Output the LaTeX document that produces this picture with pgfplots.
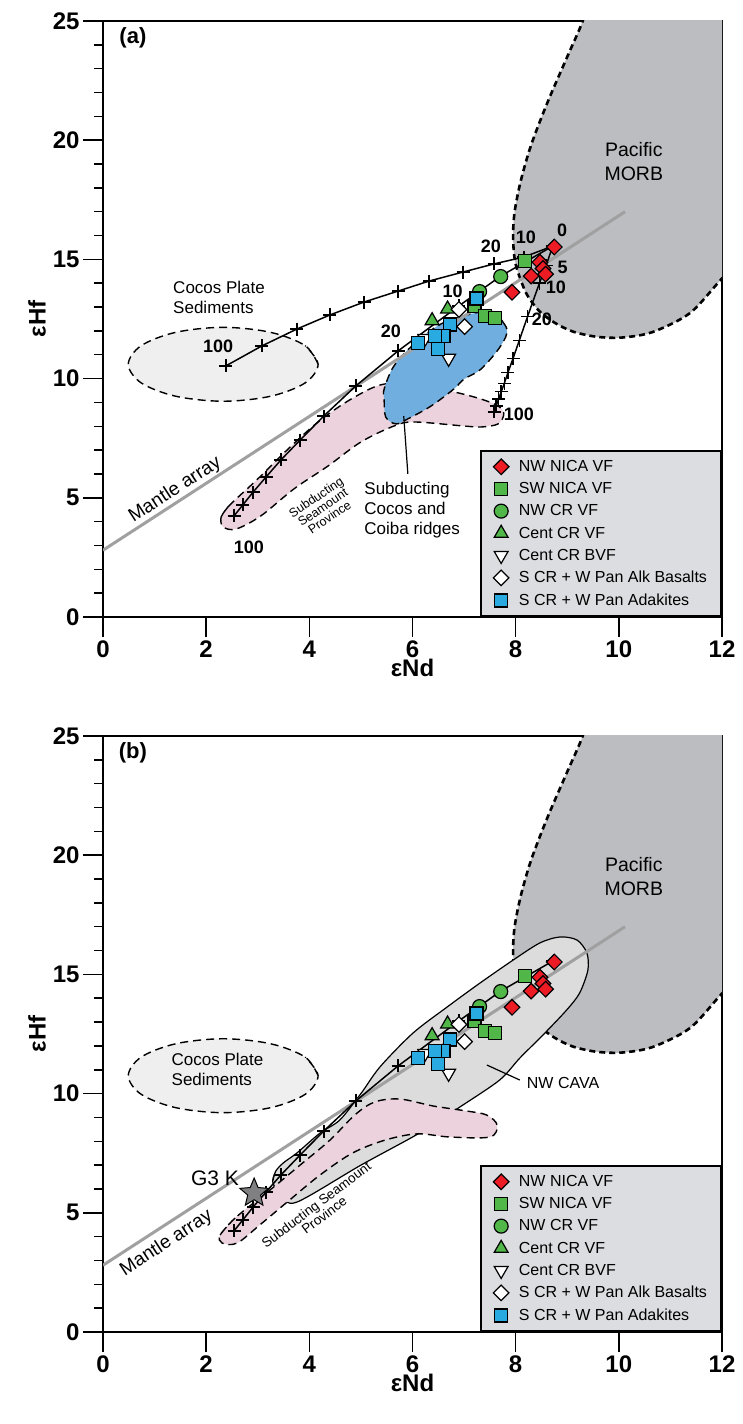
\documentclass[border=0pt]{standalone}
\usepackage{pgfplots}
\pgfplotsset{compat=1.18}
\usepackage{fontspec}
\setmainfont{Liberation Sans}
\usetikzlibrary{plotmarks}

\definecolor{morb}{RGB}{188,189,193}
\definecolor{sedfill}{RGB}{239,239,239}
\definecolor{pinkf}{RGB}{236,210,221}
\definecolor{bluef}{RGB}{111,174,222}
\definecolor{cava}{RGB}{220,220,220}
\definecolor{leggray}{RGB}{220,221,224}
\definecolor{mantle}{RGB}{160,160,160}
\definecolor{red1}{RGB}{237,28,36}
\definecolor{green1}{RGB}{80,183,72}
\definecolor{blue1}{RGB}{41,171,226}
\definecolor{starg}{RGB}{128,128,130}

\pgfdeclareplotmark{fstar}{%
  \pgfpathmoveto{\pgfpointpolar{90}{\pgfplotmarksize}}%
  \pgfpathlineto{\pgfpointpolar{126}{0.45\pgfplotmarksize}}%
  \pgfpathlineto{\pgfpointpolar{162}{\pgfplotmarksize}}%
  \pgfpathlineto{\pgfpointpolar{198}{0.45\pgfplotmarksize}}%
  \pgfpathlineto{\pgfpointpolar{234}{\pgfplotmarksize}}%
  \pgfpathlineto{\pgfpointpolar{270}{0.45\pgfplotmarksize}}%
  \pgfpathlineto{\pgfpointpolar{306}{\pgfplotmarksize}}%
  \pgfpathlineto{\pgfpointpolar{342}{0.45\pgfplotmarksize}}%
  \pgfpathlineto{\pgfpointpolar{18}{\pgfplotmarksize}}%
  \pgfpathlineto{\pgfpointpolar{54}{0.45\pgfplotmarksize}}%
  \pgfpathclose
  \pgfusepathqfillstroke}

\pgfplotsset{
  panel/.style={
    scale only axis, width=619pt, height=596pt,
    xmin=0, xmax=12, ymin=0, ymax=25,
    xtick={0,2,...,12}, ytick={0,5,...,25},
    minor ytick={1,2,3,4,6,7,8,9,11,12,13,14,16,17,18,19,21,22,23,24},
    tick pos=left, tick align=outside,
    major tick length=20pt, minor tick length=9pt,
    every tick/.append style={black, line width=1.5pt},
    axis line style={line width=2.2pt},
    tick label style={font=\fontsize{24}{24}\selectfont\bfseries},
    /pgf/number format/assume math mode=true,
    xlabel={εNd}, ylabel={εHf},
    label style={font=\fontsize{24}{24}\selectfont\bfseries},
    xlabel style={yshift=5pt},
    legend style={at={(1,0)}, anchor=south east, fill=leggray, draw=black,
      line width=2pt, font=\fontsize{16}{16}\selectfont,
      inner xsep=12pt, inner ysep=7pt, row sep=5.5pt,
      /tikz/every odd column/.append style={column sep=8pt}},
    legend cell align=left,
  },
  rgn/.style={dash pattern=on 8pt off 5pt, line width=1.4pt, smooth, tension=0.55},
  morbline/.style={dash pattern=on 6pt off 4pt, line width=2.6pt, smooth, tension=0.5},
  mix/.style={black, line width=1.5pt, mark=+, mark size=6.5pt, mark options={line width=1.5pt}},
  nwnica/.style={only marks, mark=square*, mark size=5.5pt, line width=1.2pt, mark options={rotate=45, fill=red1, draw=black}},
  swnica/.style={only marks, mark=square*, mark size=6.5pt, line width=1.2pt, mark options={fill=green1, draw=black}},
  nwcr/.style={only marks, mark=*, mark size=7pt, line width=1.2pt, mark options={fill=green1, draw=black}},
  centcr/.style={only marks, mark=triangle*, mark size=8pt, line width=1.2pt, mark options={fill=green1, draw=black}},
  centbvf/.style={only marks, mark=triangle*, mark size=8pt, line width=1.2pt, mark options={rotate=180, fill=white, draw=black}},
  alkb/.style={only marks, mark=square*, mark size=5.5pt, line width=1.2pt, mark options={rotate=45, fill=white, draw=black}},
  adak/.style={only marks, mark=square*, mark size=6.5pt, line width=1.2pt, mark options={fill=blue1, draw=black}},
}

\newcommand{\datapoints}{%
\addplot[nwnica] coordinates {(8.75,15.52) (8.47,14.88) (8.53,14.62) (8.30,14.30) (8.58,14.38) (7.93,13.62)};
\addlegendentry{NW NICA VF}
\addplot[swnica] coordinates {(7.20,13.05) (8.18,14.94) (7.40,12.62) (7.60,12.53)};
\addlegendentry{SW NICA VF}
\addplot[nwcr] coordinates {(7.71,14.28) (7.30,13.65)};
\addlegendentry{NW CR VF}
\addplot[centcr] coordinates {(6.68,12.92) (6.38,12.43)};
\addlegendentry{Cent CR VF}
\addplot[centbvf] coordinates {(6.24,11.68) (6.70,10.85)};
\addlegendentry{Cent CR BVF}
\addplot[alkb] coordinates {(6.90,12.90) (7.01,12.18)};
\addlegendentry{S CR + W Pan Alk Basalts}
\addplot[adak] coordinates {(7.24,13.36) (6.73,12.27) (6.50,11.25) (6.60,11.80) (6.44,11.78) (6.10,11.48)};
\addlegendentry{S CR + W Pan Adakites}
}

\newcommand{\morb}{%
\addplot[fill=morb, draw=none, smooth, tension=0.5, forget plot] coordinates {(9.40,26) (9.30,25) (9.0,23.5) (8.62,21.6) (8.30,19.8) (8.10,18.3) (7.98,17.0) (7.95,15.9) (8.0,14.8) (8.20,13.6) (8.45,12.85) (8.75,12.35) (9.10,11.98) (9.55,11.76) (10.05,11.72) (10.65,11.95) (11.38,12.75) (12.0,14.2) (12.6,15.5) (12.8,26)} -- cycle;
\addplot[morbline, forget plot] coordinates {(9.40,26) (9.30,25) (9.0,23.5) (8.62,21.6) (8.30,19.8) (8.10,18.3) (7.98,17.0) (7.95,15.9) (8.0,14.8) (8.20,13.6) (8.45,12.85) (8.75,12.35) (9.10,11.98) (9.55,11.76) (10.05,11.72) (10.65,11.95) (11.38,12.75) (12.0,14.2) (12.6,15.5)};
}

\begin{document}
\begin{tikzpicture}
\path[use as bounding box] (0,0) rectangle (743pt,1424pt);

% ================= panel (a) =================
\begin{axis}[panel, at={(103pt,807pt)}, anchor=south west]
\morb
% Cocos plate sediments
\addplot[fill=sedfill, rgn, forget plot] coordinates {(4.17,10.6) (3.92,11.38) (3.25,11.94) (2.33,12.15) (1.41,11.94) (0.74,11.38) (0.49,10.6) (0.74,9.82) (1.41,9.26) (2.33,9.05) (3.25,9.26) (3.92,9.82) (4.17,10.6) (3.92,11.38)};
% seamount province
\addplot[fill=pinkf, rgn, forget plot] coordinates {(2.29,4.19) (2.44,4.66) (3.00,5.79) (3.59,7.05) (4.17,8.18) (4.81,9.14) (5.45,9.77) (6.16,9.65) (6.80,9.44) (7.33,9.14) (7.66,8.85) (7.77,8.52) (7.66,8.10) (7.33,7.97) (7.00,8.01) (6.03,8.18) (5.64,8.01) (5.00,7.34) (4.36,6.33) (3.70,5.37) (3.06,4.24) (2.58,3.69) (2.33,3.78) (2.29,4.19) (2.44,4.66)};
% Cocos and Coiba ridges
\addplot[fill=bluef, rgn, forget plot] coordinates {(7.58,12.79) (7.83,12.08) (7.71,11.37) (7.33,10.40) (7.00,9.98) (6.80,9.56) (6.36,8.85) (5.91,8.31) (5.68,8.10) (5.48,8.39) (5.45,9.14) (5.45,9.56) (5.64,10.53) (6.03,11.45) (6.55,12.29) (7.13,12.71) (7.58,12.79) (7.83,12.08)};
% mantle array
\addplot[mantle, line width=3pt, forget plot] coordinates {(0,2.8) (10.12,17.0)};
% mixing curves
\addplot[mix, forget plot] coordinates {(8.72,15.56) (8.16,15.10) (7.58,14.81) (6.98,14.47) (6.32,14.09) (5.72,13.67) (5.06,13.21) (4.40,12.67) (3.76,12.08) (3.08,11.37) (2.38,10.53)};
\addplot[mix, forget plot] coordinates {(8.72,15.56) (7.71,14.30) (6.90,13.05) (5.72,11.16) (4.90,9.69) (4.28,8.43) (3.82,7.42) (3.45,6.59) (3.16,5.87) (2.91,5.24) (2.71,4.70) (2.54,4.24)};
\addplot[mix, forget plot] coordinates {(8.72,15.56) (8.59,14.75) (8.46,14.0) (8.23,12.6) (8.07,11.6) (7.95,10.85) (7.85,10.25) (7.78,9.8) (7.72,9.45) (7.67,9.15) (7.62,8.85) (7.58,8.6)};
% leader line
\addplot[black, line width=1.2pt, forget plot] coordinates {(5.91,6.0) (5.83,8.43)};
\datapoints
% labels
\node[font=\fontsize{22}{22}\selectfont\bfseries] at (axis cs:0.58,24.3) {(a)};
\node[font=\fontsize{19.5}{24}\selectfont, align=center] at (axis cs:10.29,19.1) {Pacific\\MORB};
\node[font=\fontsize{17}{20}\selectfont, align=left] at (axis cs:2.25,13.4) {Cocos Plate\\Sediments};
\node[font=\fontsize{17}{20}\selectfont, align=left, anchor=north west] at (axis cs:5.0,5.8) {Subducting\\Cocos and\\Coiba ridges};
\node[font=\fontsize{12.5}{12}\selectfont, align=center, rotate=34] at (axis cs:4.26,4.61) {Subducting\\Seamount\\Province};
\node[font=\fontsize{19}{19}\selectfont, rotate=33] at (axis cs:1.40,5.33) {Mantle array};
\begin{scope}[every node/.style={font=\fontsize{18}{18}\selectfont\bfseries}]
\node at (axis cs:2.23,11.37) {100};
\node at (axis cs:7.52,15.56) {20};
\node at (axis cs:8.20,15.94) {10};
\node at (axis cs:8.90,16.23) {0};
\node at (axis cs:8.91,14.68) {5};
\node at (axis cs:8.78,13.84) {10};
\node at (axis cs:8.51,12.5) {20};
\node at (axis cs:8.06,8.51) {100};
\node at (axis cs:5.58,12.0) {20};
\node at (axis cs:6.78,13.67) {10};
\node at (axis cs:2.83,2.94) {100};
\end{scope}
\end{axis}

% ================= panel (b) =================
\begin{axis}[panel, at={(103pt,92pt)}, anchor=south west]
\morb
\addplot[fill=sedfill, rgn, forget plot] coordinates {(4.17,10.75) (3.92,11.53) (3.25,12.09) (2.33,12.3) (1.41,12.09) (0.74,11.53) (0.49,10.75) (0.74,9.97) (1.41,9.41) (2.33,9.2) (3.25,9.41) (3.92,9.97) (4.17,10.75) (3.92,11.53)};
% NW CAVA field
\addplot[fill=cava, draw=black, line width=1.2pt, smooth, tension=0.5, forget plot] coordinates {(3.29,6.30) (3.35,6.75) (3.50,7.10) (3.76,7.51) (4.21,8.35) (4.59,8.89) (5.0,10.0) (5.37,11.12) (6.01,12.54) (6.67,13.63) (7.31,14.64) (7.95,15.60) (8.47,16.32) (8.86,16.57) (9.19,16.44) (9.38,15.90) (9.40,15.18) (9.24,14.22) (8.99,13.51) (8.53,12.46) (8.08,11.49) (7.69,10.57) (6.92,9.44) (6.14,8.35) (5.0,7.0) (3.76,5.45) (3.45,5.70) (3.29,6.30) (3.35,6.75)};
% seamount province
\addplot[fill=pinkf, rgn, forget plot] coordinates {(2.27,4.07) (2.56,4.78) (3.24,5.96) (3.82,7.00) (4.40,8.05) (4.88,9.10) (5.27,9.65) (5.76,9.77) (6.40,9.48) (7.05,9.27) (7.44,9.10) (7.64,8.68) (7.50,8.18) (6.72,8.18) (6.09,8.31) (5.47,8.05) (4.84,7.51) (4.21,6.59) (3.62,5.54) (3.04,4.49) (2.60,3.73) (2.31,3.73) (2.27,4.07) (2.56,4.78)};
\addplot[mantle, line width=3pt, forget plot] coordinates {(0,2.8) (10.12,17.0)};
\addplot[mix, forget plot] coordinates {(8.72,15.56) (7.71,14.30) (6.90,13.05) (5.72,11.16) (4.90,9.69) (4.28,8.43) (3.82,7.42) (3.45,6.59) (3.16,5.87) (2.91,5.24) (2.71,4.70) (2.54,4.24)};
\addplot[black, line width=1.2pt, forget plot] coordinates {(7.44,11.2) (8.08,10.57)};
\addplot[only marks, mark=fstar, mark size=15pt, line width=1pt, mark options={fill=starg, draw=black}, forget plot] coordinates {(2.93,5.83)};
\datapoints
\node[font=\fontsize{22}{22}\selectfont\bfseries] at (axis cs:0.58,24.3) {(b)};
\node[font=\fontsize{19.5}{24}\selectfont, align=center] at (axis cs:10.29,19.1) {Pacific\\MORB};
\node[font=\fontsize{17}{20}\selectfont, align=left] at (axis cs:2.22,11.03) {Cocos Plate\\Sediments};
\node[font=\fontsize{16}{16}\selectfont, anchor=west] at (axis cs:8.15,10.45) {NW CAVA};
\node[font=\fontsize{13.5}{13}\selectfont, align=center, rotate=37] at (axis cs:4.21,5.12) {Subducting Seamount\\Province};
\node[font=\fontsize{19}{19}\selectfont, rotate=33] at (axis cs:1.23,3.72) {Mantle array};
\node[font=\fontsize{21}{21}\selectfont] at (axis cs:2.17,6.46) {G3 K};
\end{axis}
\end{tikzpicture}
\end{document}
